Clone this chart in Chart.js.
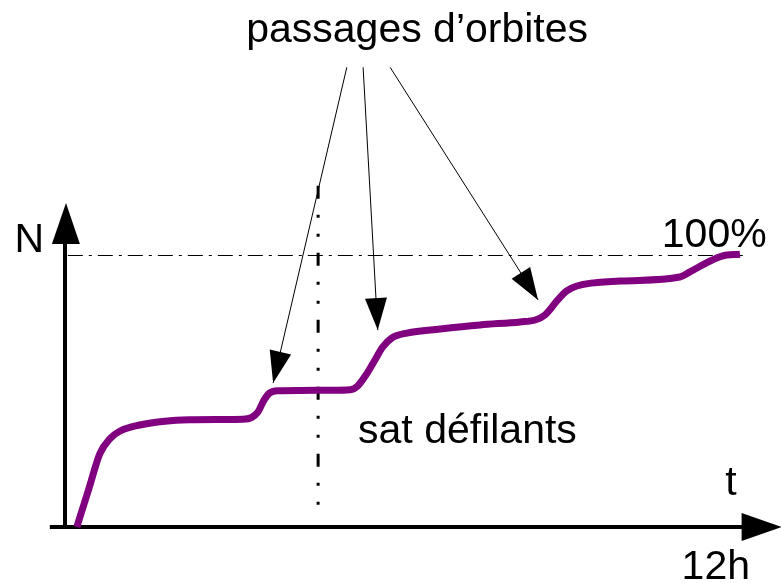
<!DOCTYPE html>
<html lang="fr">
<head>
  <meta charset="UTF-8" />
  <title>Passages d'orbites</title>
  <script src="https://cdn.jsdelivr.net/npm/chart.js"></script>
  <style>
    body { margin: 0; background: #ffffff; }
    #wrap { width: 781px; height: 583px; }
  </style>
</head>
<body>
  <div id="wrap"><canvas id="chart" width="781" height="583"></canvas></div>
  <script>
    // courbe N(t) : heures / pourcentage couvert
    const hours = [0.21, 0.42, 0.62, 0.8, 0.98, 1.33, 1.78, 2.22, 2.76, 3.16, 3.32, 3.43, 3.54, 3.64, 3.79, 4.18, 4.71, 5.07, 5.2, 5.35, 5.51, 5.65, 5.81, 6.08, 6.67, 7.38, 8.09, 8.36, 8.53, 8.76, 8.92, 9.1, 9.87, 10.93, 11.11, 11.47, 11.68, 12];
    const coverage = [0, 13.8, 27, 32.5, 35.3, 37.5, 38.9, 39.4, 39.5, 39.6, 40.3, 42.3, 46.7, 49.3, 50.1, 50.2, 50.3, 50.5, 51.8, 55.9, 61.4, 66.2, 69.5, 71.3, 72.8, 74.3, 75.4, 76.1, 77.9, 83.5, 86.8, 88.6, 90.4, 91.9, 93.8, 97.8, 99.6, 100.3];

    // flèches "passages d'orbites" : départ -> pointe
    const arrowFromX = [5.01, 5.3, 5.78];
    const arrowFromY = [169, 169, 169];
    const arrowToX = [3.7, 5.56, 8.41];
    const arrowToY = [52.9, 72.4, 83.5];

    const fullLevel = 100;      // ligne 100%
    const defilantTime = 4.5;   // ligne verticale sat défilants
    const xEndLabel = '12h';
    const yLabel = 'N';
    const xLabel = 't';

    const FONT = '41px "Liberation Sans", Arial, sans-serif';

    function arrowHead(ctx, x1, y1, x2, y2, len, half) {
      const a = Math.atan2(y2 - y1, x2 - x1);
      ctx.beginPath();
      ctx.moveTo(x2, y2);
      ctx.lineTo(x2 - len * Math.cos(a) + half * Math.sin(a), y2 - len * Math.sin(a) - half * Math.cos(a));
      ctx.lineTo(x2 - len * Math.cos(a) - half * Math.sin(a), y2 - len * Math.sin(a) + half * Math.cos(a));
      ctx.closePath();
      ctx.fill();
    }

    const decor = {
      id: 'decor',
      beforeDatasetsDraw(chart) {
        const ctx = chart.ctx;
        const xs = chart.scales.x, ys = chart.scales.y;
        ctx.save();
        ctx.strokeStyle = '#000';

        // ligne horizontale 100%
        const yFull = Math.round(ys.getPixelForValue(fullLevel)) + 0.5;
        ctx.lineWidth = 1;
        ctx.setLineDash([15, 6, 3, 6]);
        ctx.beginPath();
        ctx.moveTo(xs.getPixelForValue(0.05), yFull);
        ctx.lineTo(xs.getPixelForValue(12.15), yFull);
        ctx.stroke();

        // ligne verticale
        ctx.lineWidth = 3;
        ctx.setLineDash([13, 16, 3, 16, 3, 16]);
        ctx.beginPath();
        ctx.moveTo(xs.getPixelForValue(defilantTime), ys.getPixelForValue(125.5));
        ctx.lineTo(xs.getPixelForValue(defilantTime), ys.getPixelForValue(2.5));
        ctx.stroke();
        ctx.setLineDash([]);

        // axes
        const x0 = xs.getPixelForValue(0), y0 = ys.getPixelForValue(0);
        ctx.lineWidth = 4;
        ctx.beginPath();
        ctx.moveTo(xs.getPixelForValue(-0.27), y0);
        ctx.lineTo(xs.getPixelForValue(12.05), y0);
        ctx.moveTo(x0, y0);
        ctx.lineTo(x0, ys.getPixelForValue(109));
        ctx.stroke();
        ctx.fillStyle = '#000';
        arrowHead(ctx, x0, y0, xs.getPixelForValue(12.74), y0, 40, 14);
        arrowHead(ctx, x0, y0, x0 + 1, ys.getPixelForValue(119.1), 41, 14);
        ctx.restore();
      },
      afterDatasetsDraw(chart) {
        const ctx = chart.ctx;
        const xs = chart.scales.x, ys = chart.scales.y;
        ctx.save();
        ctx.strokeStyle = '#000';
        ctx.fillStyle = '#000';
        ctx.lineWidth = 1;
        for (let i = 0; i < arrowFromX.length; i++) {
          const x1 = xs.getPixelForValue(arrowFromX[i]), y1 = ys.getPixelForValue(arrowFromY[i]);
          const x2 = xs.getPixelForValue(arrowToX[i]), y2 = ys.getPixelForValue(arrowToY[i]);
          ctx.beginPath();
          ctx.moveTo(x1, y1);
          ctx.lineTo(x2, y2);
          ctx.stroke();
          arrowHead(ctx, x1, y1, x2, y2, 32, 11);
        }

        ctx.font = FONT;
        ctx.textBaseline = 'alphabetic';
        ctx.textAlign = 'center';
        ctx.fillText('passages d\u2019orbites', xs.getPixelForValue(6.26), ys.getPixelForValue(178.3));
        ctx.fillText(xLabel, xs.getPixelForValue(11.84), ys.getPixelForValue(11.8));
        ctx.fillText(xEndLabel, xs.getPixelForValue(11.57), ys.getPixelForValue(-19.3));
        ctx.textAlign = 'left';
        ctx.fillText('sat d\u00e9filants', xs.getPixelForValue(5.21), ys.getPixelForValue(30.9));
        ctx.fillText(fullLevel + '%', xs.getPixelForValue(10.61), ys.getPixelForValue(103));
        ctx.textAlign = 'right';
        ctx.fillText(yLabel, xs.getPixelForValue(-0.37), ys.getPixelForValue(101));
        ctx.restore();
      }
    };

    new Chart(document.getElementById('chart'), {
      type: 'line',
      data: {
        datasets: [{
          data: hours.map((h, i) => ({ x: h, y: coverage[i] })),
          borderColor: '#800080',
          borderWidth: 7,
          borderCapStyle: 'butt',
          pointRadius: 0,
          fill: false,
          cubicInterpolationMode: 'monotone'
        }]
      },
      options: {
        responsive: false,
        animation: false,
        layout: { padding: 0 },
        plugins: { legend: { display: false }, tooltip: { enabled: false } },
        scales: {
          x: { type: 'linear', min: -1.1556, max: 12.729, display: false },
          y: { type: 'linear', min: -20.59, max: 193.75, display: false }
        }
      },
      plugins: [decor]
    });
  </script>
</body>
</html>
